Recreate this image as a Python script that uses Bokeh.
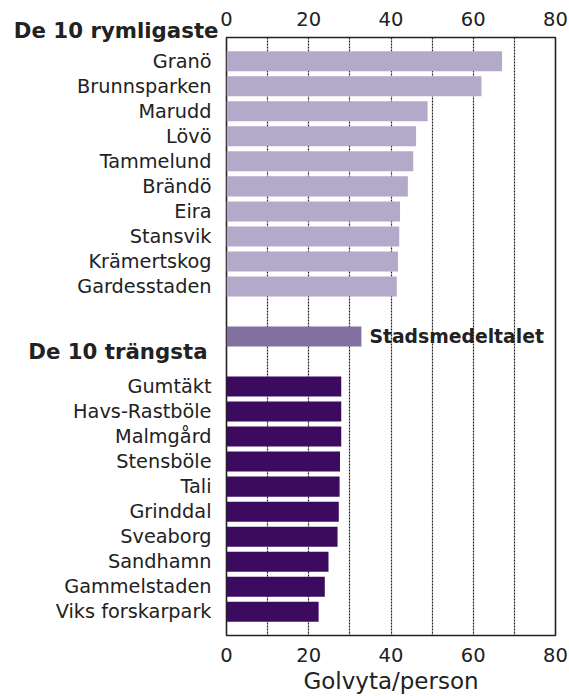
from bokeh.plotting import figure
from bokeh.models import (Range1d, LinearAxis, FixedTicker, ColumnDataSource)
from bokeh.core.properties import value
from bokeh.embed import file_html
from bokeh.resources import INLINE

# ---- data ----
top_names = ["Granö", "Brunnsparken", "Marudd", "Lövö", "Tammelund", "Brändö",
             "Eira", "Stansvik", "Krämertskog", "Gardesstaden"]
top_values = [67.0, 62.0, 48.9, 46.1, 45.4, 44.1, 42.2, 42.0, 41.7, 41.4]

avg_name = "Stadsmedeltalet"
avg_value = 32.8

bottom_names = ["Gumtäkt", "Havs-Rastböle", "Malmgård", "Stensböle", "Tali",
                "Grinddal", "Sveaborg", "Sandhamn", "Gammelstaden", "Viks forskarpark"]
bottom_values = [27.9, 27.9, 27.9, 27.6, 27.5, 27.3, 27.0, 24.8, 23.9, 22.4]

heading_top = "De 10 rymligaste"
heading_bottom = "De 10 trängsta"
x_label = "Golvyta/person"
x_ticks = [0, 20, 40, 60, 80]
grid_ticks = [10, 20, 30, 40, 50, 60, 70]

# row slots, with gaps for the average and the second heading
top_pos = list(range(0, 10))
avg_pos = 11
heading_top_pos = -1.23
heading_bottom_pos = 11.6
bottom_pos = list(range(13, 23))

FONT = "DejaVu Sans"
TXT = "#222222"

p = figure(width=569, height=696, output_backend="svg", toolbar_location=None,
           x_range=Range1d(0, 80), y_range=Range1d(22.95, -0.95),
           x_axis_location=None, y_axis_location=None,
           min_border_left=226, min_border_right=14, min_border_top=37,
           min_border_bottom=59)

p.outline_line_color = "#222222"
p.outline_line_width = 1.6
p.background_fill_color = "white"
p.border_fill_color = "white"

light = "#b3a9c9"
mid = "#8270a0"
dark = "#3c0a5e"

src_top = ColumnDataSource(dict(y=top_pos, v=top_values))
src_bot = ColumnDataSource(dict(y=bottom_pos, v=bottom_values))
p.hbar(y="y", right="v", left=0, height=0.8, source=src_top,
       fill_color=light, line_color=None)
p.hbar(y=[avg_pos], right=[avg_value], left=0, height=0.8,
       fill_color=mid, line_color=None)
p.hbar(y="y", right="v", left=0, height=0.8, source=src_bot,
       fill_color=dark, line_color=None)

# grid
p.ygrid.visible = False
p.xgrid.ticker = FixedTicker(ticks=grid_ticks)
p.xgrid.grid_line_color = "#222222"
p.xgrid.grid_line_dash = "2 1"
p.xgrid.grid_line_width = 1.2
p.xgrid.grid_line_alpha = 1.0

def style_x(ax, standoff):
    ax.ticker = FixedTicker(ticks=x_ticks)
    ax.axis_line_color = None
    ax.major_tick_line_color = None
    ax.minor_tick_line_color = None
    ax.major_tick_out = 0
    ax.major_tick_in = 0
    ax.major_label_text_font = FONT
    ax.major_label_text_font_size = "19.5px"
    ax.major_label_text_color = TXT
    ax.major_label_standoff = standoff

ax_top = LinearAxis()
style_x(ax_top, 12)
p.add_layout(ax_top, "above")

ax_bot = LinearAxis(axis_label=x_label)
style_x(ax_bot, 12)
ax_bot.axis_label_text_font = FONT
ax_bot.axis_label_text_font_size = "23px"
ax_bot.axis_label_text_font_style = "normal"
ax_bot.axis_label_text_color = TXT
ax_bot.axis_label_standoff = 3
p.add_layout(ax_bot, "below")

ax_left = LinearAxis()
ax_left.ticker = FixedTicker(ticks=top_pos + bottom_pos)
ax_left.major_label_overrides = {**{y: n for y, n in zip(top_pos, top_names)},
                                 **{y: n for y, n in zip(bottom_pos, bottom_names)}}
ax_left.axis_line_color = None
ax_left.major_tick_line_color = None
ax_left.minor_tick_line_color = None
ax_left.major_tick_out = 0
ax_left.major_tick_in = 0
ax_left.major_label_text_font = FONT
ax_left.major_label_text_font_size = "19.3px"
ax_left.major_label_text_color = TXT
ax_left.major_label_standoff = 15
p.add_layout(ax_left, "left")

# headings (drawn at overlay level so they may sit outside the frame)
p.text(x=[0], y=[heading_top_pos], text=[heading_top], x_offset=-8,
       text_align="right", text_baseline="middle", text_font=value(FONT),
       text_font_size="21.3px", text_font_style="bold", text_color=TXT,
       level="overlay")
p.text(x=[0], y=[heading_bottom_pos], text=[heading_bottom], x_offset=-19,
       text_align="right", text_baseline="middle", text_font=value(FONT),
       text_font_size="21.3px", text_font_style="bold", text_color=TXT,
       level="overlay")
p.text(x=[avg_value], y=[avg_pos], text=[avg_name], x_offset=8,
       text_align="left", text_baseline="middle", text_font=value(FONT),
       text_font_size="18.8px", text_font_style="bold", text_color=TXT)

open("out.html", "w").write(file_html(p, INLINE))
